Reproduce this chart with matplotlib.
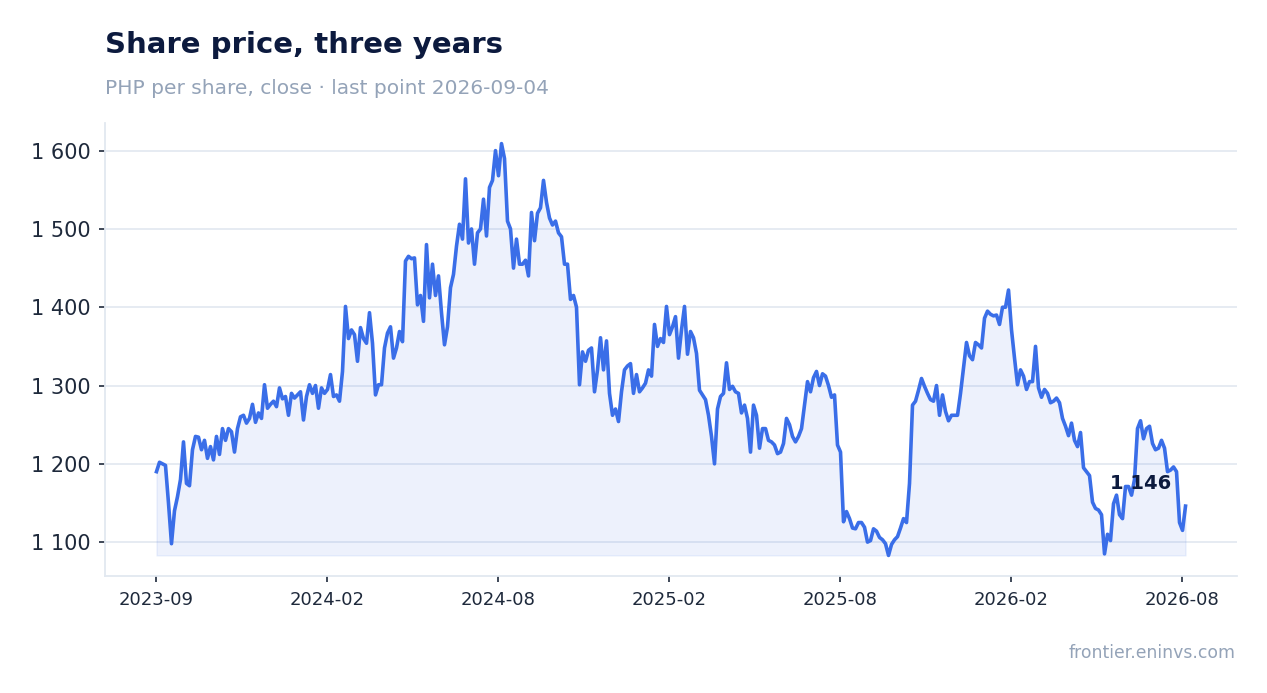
import pandas as pd
import matplotlib
matplotlib.use("Agg")
import matplotlib.pyplot as plt
from matplotlib.ticker import FuncFormatter

# closing price, PHP per share (roughly every 3 days)
prices = [
    1190, 1202, 1200, 1198, 1150, 1098, 1140, 1158, 1180, 1228,
    1175, 1172, 1218, 1235, 1234, 1218, 1230, 1207, 1222, 1205,
    1235, 1212, 1245, 1230, 1245, 1241, 1215, 1245, 1260, 1262,
    1252, 1258, 1276, 1253, 1265, 1258, 1301, 1271, 1276, 1280,
    1273, 1297, 1283, 1286, 1262, 1290, 1284, 1288, 1292, 1256,
    1286, 1301, 1290, 1300, 1271, 1297, 1290, 1295, 1314, 1286,
    1288, 1280, 1318, 1401, 1360, 1371, 1365, 1331, 1374, 1360,
    1354, 1393, 1354, 1288, 1301, 1301, 1348, 1367, 1375, 1335,
    1348, 1369, 1356, 1459, 1465, 1462, 1463, 1403, 1415, 1382,
    1480, 1412, 1455, 1415, 1440, 1393, 1352, 1375, 1425, 1442,
    1478, 1506, 1487, 1564, 1482, 1500, 1455, 1495, 1500, 1538,
    1491, 1553, 1562, 1600, 1568, 1609, 1590, 1510, 1500, 1450,
    1487, 1455, 1455, 1460, 1440, 1521, 1485, 1520, 1527, 1562,
    1534, 1514, 1505, 1510, 1495, 1490, 1455, 1455, 1410, 1415,
    1400, 1301, 1343, 1331, 1345, 1348, 1292, 1320, 1361, 1320,
    1357, 1290, 1262, 1270, 1254, 1292, 1320, 1325, 1328, 1290,
    1314, 1292, 1297, 1303, 1320, 1312, 1378, 1350, 1360, 1355,
    1401, 1365, 1375, 1388, 1335, 1371, 1401, 1340, 1369, 1361,
    1341, 1294, 1288, 1282, 1262, 1235, 1200, 1270, 1286, 1290,
    1329, 1295, 1299, 1292, 1290, 1265, 1275, 1258, 1215, 1275,
    1262, 1220, 1245, 1245, 1230, 1228, 1224, 1213, 1215, 1226,
    1258, 1250, 1235, 1228, 1235, 1245, 1275, 1305, 1292, 1310,
    1318, 1300, 1315, 1312, 1300, 1285, 1288, 1224, 1215, 1126,
    1139, 1130, 1118, 1117, 1125, 1125, 1119, 1100, 1102, 1117,
    1114, 1106, 1103, 1098, 1083, 1097, 1103, 1107, 1118, 1130,
    1125, 1175, 1275, 1280, 1294, 1309, 1299, 1290, 1282, 1280,
    1300, 1262, 1288, 1267, 1255, 1262, 1262, 1262, 1290, 1322,
    1355, 1338, 1333, 1355, 1352, 1348, 1386, 1395, 1391, 1389,
    1390, 1378, 1400, 1400, 1422, 1371, 1335, 1301, 1320, 1312,
    1295, 1305, 1305, 1350, 1297, 1285, 1295, 1290, 1278, 1280,
    1284, 1278, 1258, 1248, 1236, 1252, 1230, 1222, 1240, 1195,
    1190, 1185, 1151, 1143, 1141, 1135, 1085, 1110, 1102, 1149,
    1160, 1135, 1130, 1171, 1171, 1160, 1180, 1245, 1255, 1232,
    1245, 1248, 1226, 1218, 1220, 1230, 1220, 1190, 1192, 1196,
    1190, 1125, 1115, 1146,
]
start_date = "2023-09-04"
last_date = "2026-09-04"
tick_labels = ["2023-09", "2024-02", "2024-08", "2025-02", "2025-08", "2026-02", "2026-08"]

dates = pd.date_range(start_date, last_date, periods=len(prices))
tick_pos = pd.date_range(start_date, periods=len(tick_labels), freq="182D")

blue = "#3a6ee8"
navy = "#0c1a3e"
grey = "#94a3b8"
light = "#e2e8f0"
tick_col = "#1e293b"

fig = plt.figure(figsize=(12.67, 6.93), dpi=100)
ax = fig.add_axes([0.0829, 0.1688, 0.8934, 0.6537])

ax.fill_between(dates, prices, min(prices), color=blue, alpha=0.09, linewidth=1, zorder=2)
ax.plot(dates, prices, color=blue, linewidth=2.6, solid_joinstyle="round", zorder=3)

ax.set_yticks([1100, 1200, 1300, 1400, 1500, 1600])
ax.yaxis.set_major_formatter(FuncFormatter(lambda v, p: f"{v:,.0f}".replace(",", " ")))
ax.set_xticks(tick_pos)
ax.set_xticklabels(tick_labels)

ax.grid(axis="y", color=light, linewidth=1.2, zorder=1)
ax.set_axisbelow(True)
for s in ["top", "right"]:
    ax.spines[s].set_visible(False)
for s in ["left", "bottom"]:
    ax.spines[s].set_color(light)
    ax.spines[s].set_linewidth(1.3)

ax.tick_params(axis="y", labelsize=15, colors=tick_col, length=4.5, width=1.2, pad=6)
ax.tick_params(axis="x", labelsize=13, colors=tick_col, length=4.5, width=1.2, pad=6)

last = prices[-1]
ax.annotate(f"{last:,}".replace(",", " "), xy=(dates[-1], last), xytext=(-10, 16),
            textcoords="offset points", ha="right", va="center",
            fontsize=14, fontweight="bold", color=navy, zorder=4)

fig.text(105 / 1267, 1 - 53 / 693, "Share price, three years", fontsize=21,
         fontweight="bold", color=navy, va="baseline", ha="left")
fig.text(105 / 1267, 1 - 94 / 693, "PHP per share, close · last point 2026-09-04",
         fontsize=14.5, color=grey, va="baseline", ha="left")
fig.text(1236 / 1267, 1 - 658 / 693, "frontier.eninvs.com", fontsize=12.4,
         color=grey, va="baseline", ha="right")

fig.savefig("out.png", dpi=100)
